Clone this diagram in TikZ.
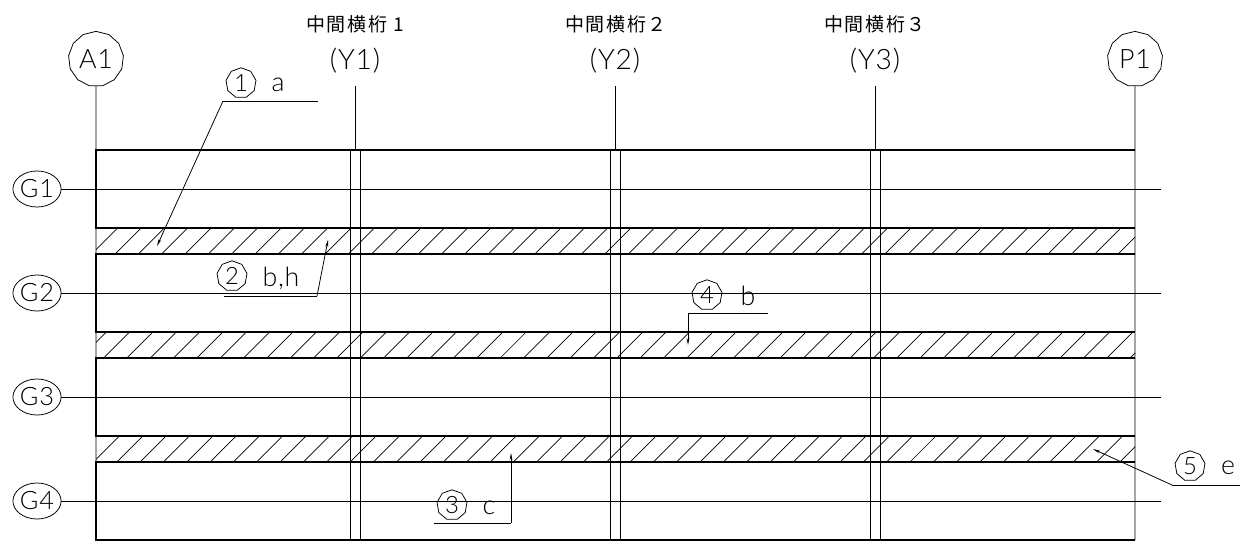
\documentclass[tikz,border=0pt]{standalone}
\usepackage{fontspec}
\usepackage{xcolor}
\usetikzlibrary{shapes.geometric,arrows.meta}
\setsansfont{Lato Light}[LetterSpace=3]
\newfontfamily\cjk{Noto Sans CJK JP}[LetterSpace=9]
\tikzset{
  beamline/.style={line width=1.5pt},
  thinline/.style={line width=0.55pt},
  hatchline/.style={line width=0.5pt},
  leaderline/.style={line width=0.55pt,-{Stealth[length=5pt,width=2pt]}},
  axisbubble/.style={draw,line width=0.55pt,regular polygon,regular polygon sides=13,minimum size=1.38cm,inner sep=0pt,font=\sffamily\fontsize{19}{19}\selectfont},
  girderbubble/.style={draw,line width=0.55pt,ellipse,minimum width=1.2cm,minimum height=0.9cm,inner sep=0pt,font=\sffamily\fontsize{18}{18}\selectfont},
  markbubble/.style={draw,line width=0.55pt,regular polygon,regular polygon sides=9,minimum size=0.76cm,inner sep=0pt,font=\sffamily\fontsize{17}{17}\selectfont},
  marktext/.style={font=\sffamily\fontsize{19}{19}\selectfont,inner sep=0pt},
  axislabel/.style={minimum height=1.25cm,inner sep=0pt,font=\sffamily\fontsize{20}{20}\selectfont},
  toplabel/.style={inner sep=0pt,font=\cjk\fontsize{13.5}{14}\selectfont}
}
\begin{document}
\begin{tikzpicture}[x=0.025cm,y=-0.025cm]
  \useasboundingbox (0,0) rectangle (1240,541);
  % hatched bands between the girders
  \foreach \yb/\off in {254/21.7,358/10.3,462/0.1} {
    \begin{scope}
      \clip (96,\yb-26) rectangle (1135,\yb);
      \foreach \k in {3,...,50}
        \draw[hatchline] ({\off+\k*23.33},\yb) to ++(26,-26);
    \end{scope}
  }
  % girder rows
  \foreach \yt/\yb in {150/228,254/332,358/436,462/540}
    \draw[beamline] (1135,\yt) -- (96,\yt) -- (96,\yb) -- (1135,\yb);
  % cross girders
  \foreach \x in {350.5,610,870} {
    \draw[thinline] (\x,150) to (\x,540);
    \draw[thinline] (\x+10,150) to (\x+10,540);
  }
  % axis marks
  \node[axisbubble] (A1) at (96,59) {A1};
  \node[axisbubble] (P1) at (1135,59) {P1};
  \coordinate (A1end) at (96,540);
  \coordinate (P1end) at (1135,540);
  \draw[thinline] (A1) to (A1end);
  \draw[thinline] (P1) to (P1end);
  \node[toplabel] (T1) at (355,24) {中間横桁 1};
  \node[toplabel] (T2) at (616,24) {中間横桁２};
  \node[toplabel] (T3) at (875,24) {中間横桁３};
  \foreach \n/\x in {1/355,2/615,3/875} {
    \node[axislabel] (Y\n) at (\x,61) {(Y\n)};
    \coordinate (Y\n end) at (\x,150);
    \draw[thinline] (Y\n) to (Y\n end);
  }
  % girder axes
  \foreach \n/\y in {1/189,2/293,3/397,4/501} {
    \node[girderbubble] (G\n) at (37,\y) {G\n};
    \coordinate (G\n end) at (1161,\y);
    \draw[thinline] (G\n) to (G\n end);
  }
  % mark 1
  \node[markbubble] (M1) at (241,83) {1};
  \node[marktext] (L1) at (278,85) {a};
  \coordinate (M1a) at (318,101);
  \coordinate (M1b) at (223,101);
  \coordinate (M1c) at (157,246);
  \draw[thinline] (M1a) to (M1b);
  \draw[leaderline] (M1b) to (M1c);
  % mark 2
  \node[markbubble] (M2) at (232,276) {2};
  \node[marktext] (L2) at (281,278) {b,h};
  \coordinate (M2a) at (224,296);
  \coordinate (M2b) at (317,296);
  \coordinate (M2c) at (328,240);
  \draw[thinline] (M2a) to (M2b);
  \draw[leaderline] (M2b) to (M2c);
  % mark 3
  \node[markbubble] (M3) at (452,505) {3};
  \node[marktext] (L3) at (489,508) {c};
  \coordinate (M3a) at (434,523);
  \coordinate (M3b) at (511,523);
  \coordinate (M3c) at (511,453);
  \draw[thinline] (M3a) to (M3b);
  \draw[leaderline] (M3b) to (M3c);
  % mark 4
  \node[markbubble] (M4) at (707,295) {4};
  \node[marktext] (L4) at (748,296) {b};
  \coordinate (M4a) at (768,313);
  \coordinate (M4b) at (688,313);
  \coordinate (M4c) at (688,345);
  \draw[thinline] (M4a) to (M4b);
  \draw[leaderline] (M4b) to (M4c);
  % mark 5
  \node[markbubble] (M5) at (1190,466) {5};
  \node[marktext] (L5) at (1228,468) {e};
  \coordinate (M5a) at (1240,485);
  \coordinate (M5b) at (1172,485);
  \coordinate (M5c) at (1093,449);
  \draw[thinline] (M5a) to (M5b);
  \draw[leaderline] (M5b) to (M5c);
\end{tikzpicture}
\end{document}
